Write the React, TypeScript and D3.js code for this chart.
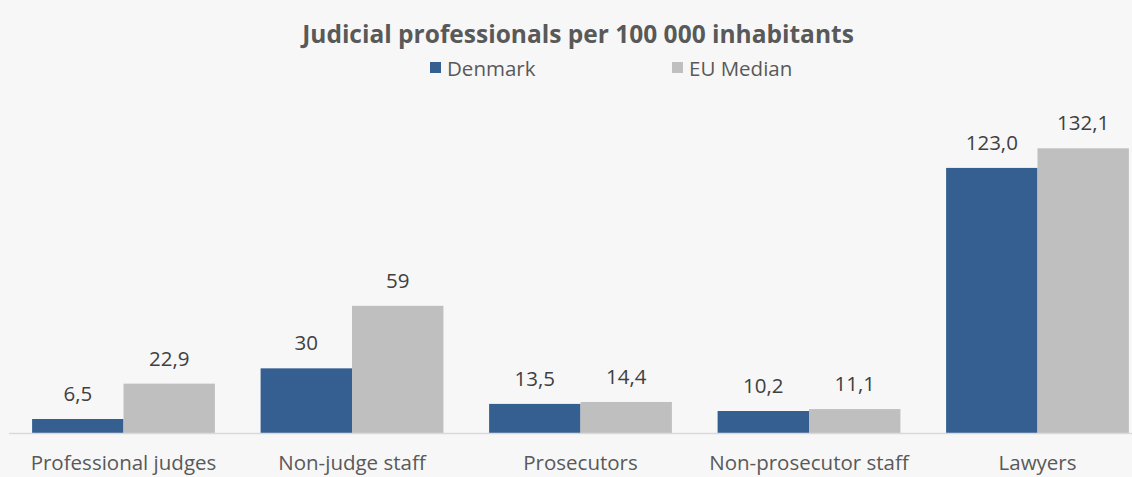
import React from "react";
import * as d3 from "d3";

const categories = ["Professional judges", "Non-judge staff", "Prosecutors", "Non-prosecutor staff", "Lawyers"];
const seriesNames = ["Denmark", "EU Median"];
const denmark = [6.5, 30, 13.5, 10.2, 123.0];
const euMedian = [22.9, 59, 14.4, 11.1, 132.1];
const denmarkLabels = ["6,5", "30", "13,5", "10,2", "123,0"];
const euLabels = ["22,9", "59", "14,4", "11,1", "132,1"];
const colors = ["#355f91", "#bfbfbf"];

const W = 1132;
const H = 477;
const FONT = "'Open Sans', 'Liberation Sans', sans-serif";

export default function App() {
  const baseline = 433;
  const x = d3.scaleBand<string>().domain(categories).range([9.25, 1151.75]).paddingInner(0.2).paddingOuter(0.1);
  const x1 = d3.scaleBand<string>().domain(seriesNames).range([0, x.bandwidth()]).padding(0);
  const y = d3.scaleLinear().domain([0, 132.1]).range([baseline, 148.3]);
  const series = [
    { name: seriesNames[0], values: denmark, labels: denmarkLabels, color: colors[0] },
    { name: seriesNames[1], values: euMedian, labels: euLabels, color: colors[1] },
  ];
  return (
    <div style={{ position: "absolute", left: 0, top: 0, width: W, height: H, overflow: "hidden" }}>
      <svg width={W} height={H} style={{ display: "block", background: "#f7f7f7" }} fontFamily={FONT}>
        <rect x={0} y={0} width={W} height={H} fill="#f7f7f7" />
        <text x={578} y={43} textAnchor="middle" fontSize={24.5} fontWeight="bold" fill="#595959">
          Judicial professionals per 100 000 inhabitants
        </text>
        <g>
          <rect x={430} y={62} width={11} height={11} fill={colors[0]} />
          <text x={447} y={76} fontSize={20.5} fill="#595959">{seriesNames[0]}</text>
          <rect x={672} y={62} width={11} height={11} fill={colors[1]} />
          <text x={689} y={76} fontSize={20.5} fill="#595959">{seriesNames[1]}</text>
        </g>
        {series.map((s) => (
          <g key={s.name}>
            {categories.map((c, i) => {
              const bx = (x(c) as number) + (x1(s.name) as number);
              const by = y(s.values[i]);
              return (
                <g key={c}>
                  <rect x={bx} y={by} width={x1.bandwidth()} height={baseline - by} fill={s.color} />
                  <text x={bx + x1.bandwidth() / 2} y={by - 18} textAnchor="middle" fontSize={20.5} fill="#404040">
                    {s.labels[i]}
                  </text>
                </g>
              );
            })}
          </g>
        ))}
        <line x1={9} x2={W} y1={baseline + 0.5} y2={baseline + 0.5} stroke="#d9d9d9" strokeWidth={1.5} />
        {categories.map((c) => (
          <text key={c} x={(x(c) as number) + x.bandwidth() / 2} y={470} textAnchor="middle" fontSize={20.5} fill="#595959">
            {c}
          </text>
        ))}
      </svg>
    </div>
  );
}
